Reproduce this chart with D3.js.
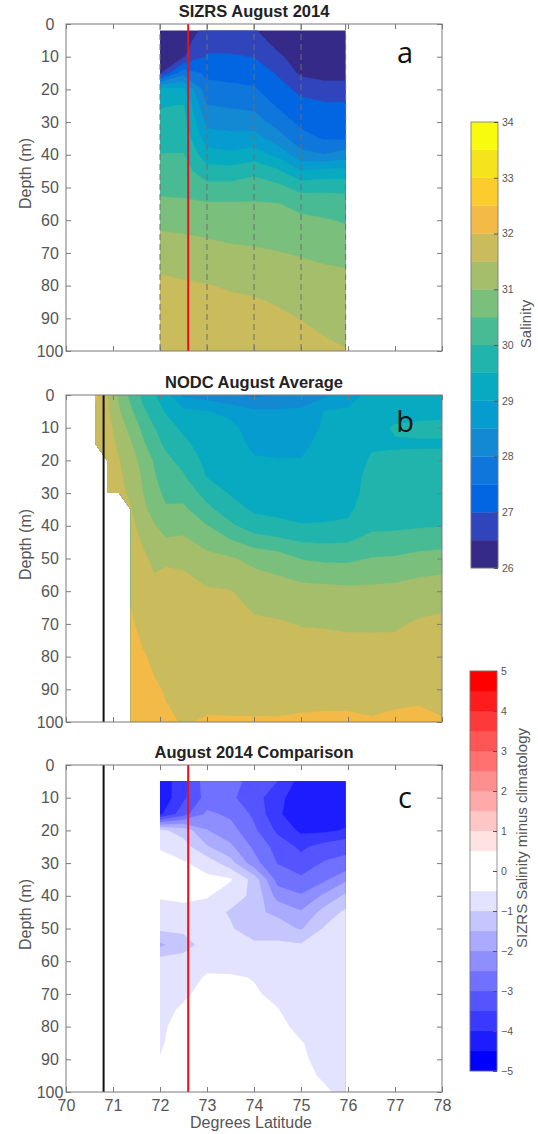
<!DOCTYPE html>
<html>
<head>
<meta charset="utf-8">
<script src="https://cdn.jsdelivr.net/npm/d3@7/dist/d3.min.js"></script>
<style>
html,body{margin:0;padding:0;background:#fff;}
svg{display:block;}
</style>
</head>
<body>
<svg id="chart" width="538" height="1134"></svg>
<script>
// ================= DATA =================
const latTicks = [70, 71, 72, 73, 74, 75, 76, 77, 78];
const depthTicks = [0, 10, 20, 30, 40, 50, 60, 70, 80, 90, 100];
const salinityTicks = [26, 27, 28, 29, 30, 31, 32, 33, 34];
const diffTicks = [-5, -4, -3, -2, -1, 0, 1, 2, 3, 4, 5];
const salinityLevels = [26, 26.5, 27, 27.5, 28, 28.5, 29, 29.5, 30, 30.5, 31, 31.5, 32, 32.5, 33, 33.5];
const diffLevels = [-5, -4.5, -4, -3.5, -3, -2.5, -2, -1.5, -1, -0.5, 0, 0.5, 1, 1.5, 2, 2.5, 3, 3.5, 4, 4.5];
const parulaColors = ['#352a87', '#3045bc', '#0265e1', '#0f77db', '#1388d3', '#079ccf', '#07aac1', '#20b4ad',
                      '#49bb94', '#7abf7c', '#a5be6b', '#cabb5c', '#f4ba47', '#fccc2f', '#f5e31e', '#f9fb0e'];
const diffColors = ['#0000ff', '#1c1cff', '#3939ff', '#5555ff', '#7171ff', '#8e8eff', '#aaaaff', '#c6c6ff', '#e3e3ff',
                    '#ffffff', '#ffffff',
                    '#ffe3e3', '#ffc6c6', '#ffaaaa', '#ff8e8e', '#ff7171', '#ff5555', '#ff3939', '#ff1c1c', '#ff0000'];
const sizrsStations = [72, 73, 74, 75, 75.95];
const redLineLat = 72.6;
const blackLineLat = 70.8;

// ---- panel a: SIZRS August 2014 (salinity by depth, one array per latitude) ----
const sizrsLats = [72, 72.5, 73, 73.5, 74, 74.5, 75, 75.5, 75.95];
const sizrsDepths = [2, 5, 10, 15, 20, 25, 30, 35, 40, 45, 50, 55, 60, 65, 70, 75, 80, 85, 90, 95, 100];
const sizrs72_0  = [26.2, 26.2, 26.3, 26.45, 29.3, 29.47, 29.64, 29.82, 30.02, 30.19, 30.38, 30.6, 30.85, 31.07, 31.29, 31.46, 31.6, 31.7, 31.78, 31.85, 31.9];
const sizrs72_5  = [26.3, 26.35, 26.45, 27.83, 29.1, 29.53, 29.69, 29.84, 30.02, 30.19, 30.37, 30.57, 30.81, 31.04, 31.21, 31.39, 31.56, 31.66, 31.75, 31.82, 31.87];
const sizrs73_0  = [26.6, 26.75, 27.06, 27.38, 27.69, 28.02, 28.36, 28.75, 29.2, 29.7, 30.17, 30.54, 30.76, 30.98, 31.16, 31.33, 31.52, 31.62, 31.72, 31.8, 31.86];
const sizrs73_5  = [26.6, 26.75, 27.06, 27.33, 27.62, 27.94, 28.29, 28.67, 29.12, 29.7, 30.17, 30.54, 30.73, 30.92, 31.1, 31.28, 31.45, 31.58, 31.68, 31.77, 31.84];
const sizrs74_0  = [26.55, 26.72, 26.98, 27.28, 27.56, 27.88, 28.25, 28.7, 29.25, 29.88, 30.25, 30.54, 30.71, 30.89, 31.07, 31.23, 31.4, 31.55, 31.65, 31.74, 31.8];
const sizrs74_5  = [26.2, 26.3, 26.6, 26.95, 27.2, 27.45, 27.79, 28.25, 28.88, 29.6, 30.14, 30.52, 30.67, 30.84, 31.02, 31.17, 31.32, 31.47, 31.58, 31.67, 31.74];
const sizrs75_0  = [26.1, 26.15, 26.25, 26.4, 26.87, 27.17, 27.38, 27.67, 28.17, 29.02, 29.83, 30.33, 30.61, 30.79, 30.96, 31.1, 31.24, 31.37, 31.49, 31.6, 31.68];
const sizrs75_5  = [26.05, 26.1, 26.2, 26.35, 26.67, 27.1, 27.29, 27.46, 28.02, 29.17, 29.88, 30.25, 30.54, 30.71, 30.89, 31.05, 31.16, 31.27, 31.39, 31.49, 31.58];
const sizrs75_95 = [26.05, 26.1, 26.2, 26.35, 26.67, 27.1, 27.27, 27.43, 28.25, 29.17, 29.88, 30.2, 30.45, 30.65, 30.83, 31.01, 31.12, 31.24, 31.33, 31.42, 31.52];

// ---- panel b: NODC August climatology (null = no data) ----
const nodcLats = [70.625, 70.875, 71.125, 71.375, 71.625, 71.875, 72.125, 72.5, 73, 73.5, 74, 74.5, 75, 75.5, 76, 76.5, 77, 77.5, 78];
const nodcDepths = [0, 5, 10, 15, 20, 25, 30, 35, 40, 50, 60, 70, 80, 90, 100];
const nodc70_625 = [32.1, 31.9, 31.85, 31.8, null, null, null, null, null, null, null, null, null, null, null];
const nodc70_875 = [31.55, 31.6, 31.7, 31.75, 31.8, 31.8, 31.85, null, null, null, null, null, null, null, null];
const nodc71_125 = [30.9, 31.05, 31.25, 31.4, 31.53, 31.6, 31.65, null, null, null, null, null, null, null, null];
const nodc71_375 = [30.35, 30.6, 30.85, 31.05, 31.2, 31.3, 31.4, 31.55, 31.6, 31.75, 31.92, 32.08, 32.15, 32.2, 32.25];
const nodc71_625 = [29.9, 30.1, 30.4, 30.6, 30.85, 30.95, 31.02, 31.15, 31.35, 31.6, 31.75, 31.85, 32.05, 32.15, 32.2];
const nodc71_875 = [29.55, 29.75, 30.02, 30.2, 30.45, 30.55, 30.65, 30.8, 31.05, 31.4, 31.62, 31.78, 31.92, 32.05, 32.12];
const nodc72_125 = [29.2, 29.45, 29.7, 29.9, 30.12, 30.25, 30.4, 30.55, 30.75, 31.45, 31.65, 31.78, 31.88, 31.97, 32.05];
const nodc72_5   = [28.4, 29.12, 29.4, 29.62, 29.83, 30.05, 30.33, 30.6, 30.82, 31.43, 31.62, 31.74, 31.84, 31.92, 31.98];
const nodc73_0   = [28.25, 29.02, 29.12, 29.25, 29.37, 29.48, 29.8, 30.14, 30.52, 31.15, 31.55, 31.67, 31.77, 31.88, 32.03];
const nodc73_5   = [28.05, 28.85, 29.15, 29.2, 29.27, 29.37, 29.46, 29.71, 30.1, 31.05, 31.52, 31.65, 31.76, 31.87, 32.03];
const nodc74_0   = [27.9, 28.58, 28.74, 28.9, 29.05, 29.18, 29.3, 29.43, 29.73, 30.87, 31.32, 31.57, 31.72, 31.86, 32.03];
const nodc74_5   = [28.05, 28.57, 28.72, 28.87, 29.02, 29.15, 29.27, 29.4, 29.6, 30.75, 31.23, 31.55, 31.71, 31.85, 32.03];
const nodc75_0   = [28.25, 28.58, 28.74, 28.9, 29.02, 29.14, 29.27, 29.39, 29.52, 30.48, 31.19, 31.48, 31.69, 31.87, 32.05];
const nodc75_5   = [28.4, 29.02, 29.07, 29.14, 29.21, 29.29, 29.36, 29.43, 29.52, 30.4, 31.16, 31.47, 31.67, 31.88, 32.06];
const nodc76_0   = [28.85, 29.05, 29.12, 29.2, 29.27, 29.33, 29.35, 29.42, 29.57, 30.4, 31.12, 31.44, 31.67, 31.88, 32.06];
const nodc76_5   = [29.1, 29.2, 29.3, 29.45, 29.55, 29.62, 29.65, 29.75, 29.88, 30.52, 31.12, 31.44, 31.66, 31.86, 32.03];
const nodc77_0   = [29.2, 29.3, 29.56, 29.45, 29.6, 29.7, 29.75, 29.8, 29.9, 30.55, 31.15, 31.45, 31.65, 31.87, 32.08];
const nodc77_5   = [29.25, 29.35, 29.6, 29.45, 29.62, 29.72, 29.78, 29.85, 29.95, 30.65, 31.25, 31.55, 31.7, 31.9, 32.1];
const nodc78_0   = [29.3, 29.4, 29.6, 29.45, 29.62, 29.72, 29.8, 29.88, 29.98, 30.7, 31.3, 31.6, 31.72, 31.9, 32.02];

// ---- panel c: SIZRS minus climatology ----
const diffLats = [72, 72.5, 73, 73.5, 74, 74.5, 75, 75.5, 75.95];
const diffDepths = [5, 10, 15, 20, 25, 30, 35, 40, 45, 50, 55, 60, 65, 70, 75, 80, 85, 90, 95, 100];
const diff72_0  = [-4.3, -4.4, -4.1, -0.9, -0.55, -0.3, -0.25, -0.45, -0.7, -0.9, -1.6, -0.8, -0.7, -0.7, -0.7, -0.65, -0.6, -0.47, -0.4, -0.3];
const diff72_5  = [-3.7, -3.6, -3.2, -1.2, -0.8, -0.45, -0.2, -0.35, -0.7, -0.9, -1.2, -0.8, -0.7, -0.6, -0.4, -0.2, -0.1, -0.1, -0.1, -0.1];
const diff73_0  = [-2.7, -2.8, -2.4, -1.98, -1.45, -0.7, -0.4, -0.45, -0.8, -0.9, -0.8, -0.65, -0.45, -0.3, -0.2, -0.1, -0.1, -0.1, -0.1, -0.1];
const diff73_5  = [-2.8, -2.9, -2.6, -2.3, -1.9, -1.3, -0.45, -0.8, -1.05, -0.95, -0.85, -0.7, -0.45, -0.35, -0.25, -0.2, -0.15, -0.1, -0.1, -0.1];
const diff74_0  = [-3.2, -3.3, -3.1, -2.9, -2.6, -2.3, -1.2, -1.1, -1.4, -1.3, -0.9, -0.75, -0.52, -0.45, -0.4, -0.3, -0.2, -0.15, -0.1, -0.1];
const diff74_5  = [-3.5, -3.8, -3.9, -3.6, -3.2, -3.02, -2.7, -2.2, -1.6, -1.3, -0.9, -0.8, -0.7, -0.6, -0.48, -0.4, -0.3, -0.25, -0.2, -0.15];
const diff75_0  = [-4.2, -4.4, -4.4, -4.1, -3.6, -3.3, -2.9, -2.45, -1.95, -1.55, -0.95, -0.85, -0.8, -0.75, -0.7, -0.6, -0.48, -0.45, -0.4, -0.35];
const diff75_5  = [-4.3, -4.4, -4.3, -4.1, -3.3, -2.95, -2.6, -1.9, -1.3, -0.95, -0.9, -0.85, -0.8, -0.8, -0.75, -0.7, -0.65, -0.6, -0.55, -0.45];
const diff75_95 = [-4.2, -4.3, -4.2, -3.95, -3.1, -2.9, -2.1, -1.4, -0.9, -0.85, -0.8, -0.8, -0.8, -0.75, -0.75, -0.7, -0.7, -0.7, -0.65, -0.6];

// ================= DRAWING =================
const FONT = '"Liberation Sans", Arial, Helvetica, sans-serif';
const svg = d3.select('#chart');
const plotL = 66, plotR = 442, plotH = 327;
const xLat = d3.scaleLinear().domain([70, 78]).range([plotL, plotR]);
const panelTops = [24, 395, 765];
const yScales = panelTops.map(t => d3.scaleLinear().domain([0, 100]).range([t, t + plotH]));

function buildGrid(cols, ny) {
  const nx = cols.length, grid = new Array(nx * ny);
  for (let j = 0; j < ny; j++) for (let i = 0; i < nx; i++) {
    let v = cols[i][j];
    if (v == null) { // masked cell: borrow neighbour in the row (region is clipped away)
      for (let k = i + 1; k < nx; k++) if (cols[k][j] != null) { v = cols[k][j]; break; }
    }
    grid[j * nx + i] = v;
  }
  return grid;
}

function drawField(id, lats, depths, cols, levels, colors, y, clipD) {
  const nx = lats.length, ny = depths.length;
  const grid = buildGrid(cols, ny);
  const latOf = d3.scaleLinear().domain(d3.range(nx)).range(lats);
  const depOf = d3.scaleLinear().domain(d3.range(ny)).range(depths);
  const proj = d3.geoTransform({
    point(px, py) { this.stream.point(xLat(latOf(px - 0.5)), y(depOf(py - 0.5))); }
  });
  const path = d3.geoPath(proj);
  const contours = d3.contours().size([nx, ny]).thresholds(levels)(grid);
  svg.append('clipPath').attr('id', id).append('path').attr('d', clipD);
  svg.append('g').attr('clip-path', `url(#${id})`)
    .selectAll('path').data(contours).join('path')
    .attr('d', path)
    .attr('fill', (d, i) => colors[i])
    .attr('stroke', (d, i) => colors[i]).attr('stroke-width', 0.3);
}

function rectClip(lats, depths, y) {
  const x0 = xLat(lats[0]), x1 = xLat(lats[lats.length - 1]);
  const y0 = y(depths[0]), y1 = y(depths[depths.length - 1]);
  return `M${x0},${y0}H${x1}V${y1}H${x0}Z`;
}

function maskClip(lats, depths, cols, y) {
  const n = lats.length;
  const last = cols.map(c => { let m = -1; c.forEach((v, j) => { if (v != null) m = j; }); return m; });
  const pts = [[lats[0], depths[0]], [lats[n - 1], depths[0]], [lats[n - 1], depths[last[n - 1]]]];
  for (let i = n - 1; i > 0; i--) {
    const mR = last[i], mL = last[i - 1];
    if (mL < mR) {
      pts.push([lats[i], depths[mL + 1]]);
      pts.push([lats[i - 1], depths[mL]]);
    } else if (mL > mR) {
      pts.push([lats[i - 1], depths[mR + 1]]);
      pts.push([lats[i - 1], depths[mL]]);
    } else {
      pts.push([lats[i - 1], depths[mL]]);
    }
  }
  return d3.line().x(p => xLat(p[0])).y(p => y(p[1]))(pts) + 'Z';
}

// panel a
drawField('clipA', sizrsLats, sizrsDepths,
  [sizrs72_0, sizrs72_5, sizrs73_0, sizrs73_5, sizrs74_0, sizrs74_5, sizrs75_0, sizrs75_5, sizrs75_95],
  salinityLevels, parulaColors, yScales[0], rectClip(sizrsLats, sizrsDepths, yScales[0]));
// panel b
const nodcCols = [nodc70_625, nodc70_875, nodc71_125, nodc71_375, nodc71_625, nodc71_875, nodc72_125, nodc72_5,
  nodc73_0, nodc73_5, nodc74_0, nodc74_5, nodc75_0, nodc75_5, nodc76_0, nodc76_5, nodc77_0, nodc77_5, nodc78_0];
drawField('clipB', nodcLats, nodcDepths, nodcCols, salinityLevels, parulaColors, yScales[1],
  maskClip(nodcLats, nodcDepths, nodcCols, yScales[1]));
// panel c
drawField('clipC', diffLats, diffDepths,
  [diff72_0, diff72_5, diff73_0, diff73_5, diff74_0, diff74_5, diff75_0, diff75_5, diff75_95],
  diffLevels, diffColors, yScales[2], rectClip(diffLats, diffDepths, yScales[2]));

// station dashed lines (panel a)
svg.append('g').selectAll('line').data(sizrsStations).join('line')
  .attr('x1', d => xLat(d)).attr('x2', d => xLat(d))
  .attr('y1', yScales[0](0)).attr('y2', yScales[0](100))
  .attr('stroke', '#6e6e6e').attr('stroke-width', 1).attr('stroke-dasharray', '6,4');

// reference lines
[[0, redLineLat, '#e8111b'], [2, redLineLat, '#e8111b'], [1, blackLineLat, '#111'], [2, blackLineLat, '#111']]
  .forEach(([p, lat, col]) => {
    svg.append('line').attr('x1', xLat(lat)).attr('x2', xLat(lat))
      .attr('y1', yScales[p](0)).attr('y2', yScales[p](100))
      .attr('stroke', col).attr('stroke-width', 2);
  });

// axes
const titles = ['SIZRS August 2014', 'NODC August Average', 'August 2014 Comparison'];
const letters = ['a', 'b', 'c'];
const letterBase = [63, 432, 808];
const labelCol = '#555';
panelTops.forEach((top, p) => {
  const y = yScales[p];
  const styleAxis = g => {
    g.select('.domain').remove();
    g.selectAll('line').attr('stroke', '#7a7a7a');
    g.selectAll('text').attr('fill', labelCol).attr('font-size', 16).attr('font-family', FONT);
  };
  svg.append('g').attr('transform', `translate(${plotL},0)`)
    .call(d3.axisLeft(y).tickValues(depthTicks).tickSizeInner(-5).tickSizeOuter(0).tickPadding(0))
    .call(styleAxis)
    .call(g => g.selectAll('text').attr('x', -16).attr('text-anchor', 'middle'));
  svg.append('g').attr('transform', `translate(${plotR},0)`)
    .call(d3.axisRight(y).tickValues(depthTicks).tickSizeInner(-5).tickSizeOuter(0).tickFormat(''))
    .call(styleAxis);
  svg.append('g').attr('transform', `translate(0,${top})`)
    .call(d3.axisTop(xLat).tickValues(latTicks).tickSizeInner(-5).tickSizeOuter(0).tickFormat(''))
    .call(styleAxis);
  svg.append('g').attr('transform', `translate(0,${top + plotH})`)
    .call(d3.axisBottom(xLat).tickValues(latTicks).tickSizeInner(-5).tickSizeOuter(0).tickPadding(8)
      .tickFormat(p === 2 ? d3.format('d') : ''))
    .call(styleAxis);
  svg.append('rect').attr('x', plotL).attr('y', top).attr('width', plotR - plotL).attr('height', plotH)
    .attr('fill', 'none').attr('stroke', '#7a7a7a').attr('stroke-width', 1);
  svg.append('text').attr('x', (plotL + plotR) / 2).attr('y', top - 7)
    .attr('text-anchor', 'middle').attr('font-family', FONT).attr('font-weight', 'bold')
    .attr('font-size', 16.5).attr('fill', '#222').text(titles[p]);
  svg.append('text').attr('transform', `translate(31,${top + plotH / 2 - 14}) rotate(-90)`)
    .attr('text-anchor', 'middle').attr('font-family', FONT).attr('font-size', 16)
    .attr('fill', labelCol).text('Depth (m)');
  svg.append('text').attr('x', 405).attr('y', letterBase[p]).attr('text-anchor', 'middle')
    .attr('font-family', '"Open Sans", "DejaVu Sans", sans-serif').attr('font-size', 29)
    .attr('fill', '#111').text(letters[p]);
});
svg.append('text').attr('x', 251).attr('y', 1128).attr('text-anchor', 'middle')
  .attr('font-family', FONT).attr('font-size', 16).attr('fill', labelCol).text('Degrees Latitude');

// colorbars
function colorbar(x0, x1, domain, range, levels, step, colors, ticks, label, labelX, labelY) {
  const yc = d3.scaleLinear().domain(domain).range(range);
  svg.append('g').selectAll('rect').data(levels).join('rect')
    .attr('x', x0).attr('width', x1 - x0)
    .attr('y', d => yc(d + step)).attr('height', d => yc(d) - yc(d + step))
    .attr('fill', (d, i) => colors[i]).attr('stroke', (d, i) => colors[i]).attr('stroke-width', 0.3);
  svg.append('rect').attr('x', x0).attr('y', range[1]).attr('width', x1 - x0).attr('height', range[0] - range[1])
    .attr('fill', 'none').attr('stroke', '#7a7a7a').attr('stroke-width', 0.8);
  svg.append('g').attr('transform', `translate(${x1},0)`)
    .call(d3.axisRight(yc).tickValues(ticks).tickSizeInner(-4).tickSizeOuter(0).tickPadding(4))
    .call(g => {
      g.select('.domain').remove();
      g.selectAll('line').attr('stroke', '#555');
      g.selectAll('text').attr('fill', labelCol).attr('font-size', 10.5).attr('font-family', FONT);
    });
  svg.append('text').attr('transform', `translate(${labelX},${labelY}) rotate(-90)`)
    .attr('text-anchor', 'middle').attr('font-family', FONT).attr('font-size', 15)
    .attr('fill', labelCol).text(label);
}
colorbar(471, 498, [26, 34], [568, 122], salinityLevels, 0.5, parulaColors, salinityTicks, 'Salinity', 531, 324);
colorbar(470, 497, [-5, 5], [1071, 671], diffLevels, 0.5, diffColors, diffTicks, 'SIZRS Salinity minus climatology', 527, 838);
</script>
</body>
</html>
